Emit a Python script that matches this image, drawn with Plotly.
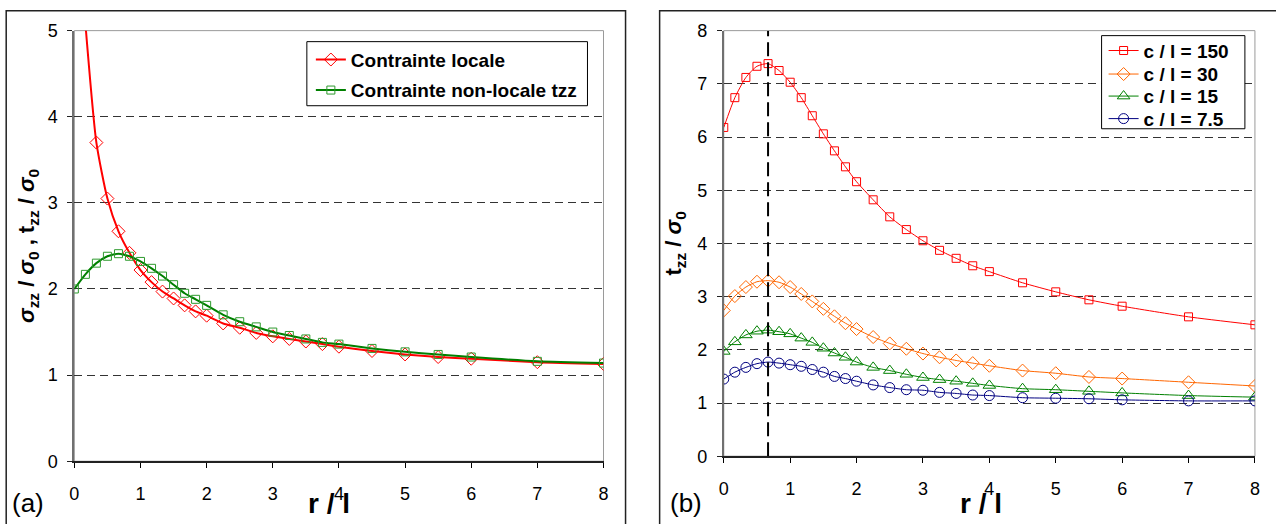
import plotly.graph_objects as go

# ---------------- data ----------------
r_all = [0, 0.167, 0.333, 0.5, 0.667, 0.833, 1.0, 1.167, 1.333, 1.5, 1.667, 1.833, 2.0,
         2.25, 2.5, 2.75, 3.0, 3.25, 3.5, 3.75, 4.0, 4.5, 5.0, 5.5, 6.0, 7.0, 8.0]
r_local = r_all[1:]

local_stress = [5.08, 3.70, 3.05, 2.67, 2.42, 2.22, 2.08, 1.97, 1.89, 1.81, 1.74, 1.69, 1.60,
                1.55, 1.49, 1.45, 1.42, 1.39, 1.36, 1.33, 1.28, 1.24, 1.21, 1.19, 1.15, 1.13]
nonlocal_tzz = [2.00, 2.17, 2.30, 2.38, 2.41, 2.38, 2.32, 2.24, 2.15, 2.05, 1.95, 1.88, 1.81,
                1.70, 1.62, 1.56, 1.50, 1.46, 1.42, 1.38, 1.36, 1.31, 1.27, 1.24, 1.21, 1.16, 1.14]

t_c150 = [6.18, 6.74, 7.12, 7.33, 7.38, 7.25, 7.03, 6.74, 6.40, 6.06, 5.74, 5.44, 5.16,
          4.82, 4.50, 4.26, 4.05, 3.87, 3.72, 3.58, 3.47, 3.26, 3.09, 2.94, 2.82, 2.62, 2.47]
t_c30 = [2.74, 3.01, 3.18, 3.28, 3.30, 3.27, 3.18, 3.05, 2.91, 2.77, 2.63, 2.50, 2.39,
         2.24, 2.12, 2.02, 1.93, 1.86, 1.80, 1.75, 1.70, 1.61, 1.56, 1.49, 1.46, 1.39, 1.32]
t_c15 = [1.97, 2.15, 2.28, 2.35, 2.37, 2.34, 2.30, 2.22, 2.14, 2.03, 1.94, 1.86, 1.77,
         1.67, 1.61, 1.54, 1.48, 1.44, 1.41, 1.37, 1.33, 1.27, 1.25, 1.22, 1.19, 1.14, 1.11]
t_c7_5 = [1.45, 1.58, 1.67, 1.74, 1.77, 1.75, 1.72, 1.69, 1.63, 1.58, 1.50, 1.46, 1.41,
          1.34, 1.29, 1.25, 1.24, 1.20, 1.18, 1.15, 1.14, 1.10, 1.09, 1.08, 1.06, 1.04, 1.04]

peak_r = 0.667

left_names = ["Contrainte locale", "Contrainte non-locale tzz"]
right_names = ["c / l = 150", "c / l = 30", "c / l = 15", "c / l = 7.5"]
x_ticks = [0, 1, 2, 3, 4, 5, 6, 7, 8]

# ---------------- figure geometry ----------------
W, H = 1276, 524
# calibration of the photographed page (picture px = A * layout px + B)
AX, BX = 0.99, 5.8
AY, BY = 0.9605, 9.4
FONT = "Arial, 'Liberation Sans', sans-serif"


def px_x(q):
    return ((q - BX) / AX) / W


def px_y(q):
    return 1 - ((q - BY) / AY) / H


fig = go.Figure()

# left panel
fig.add_trace(go.Scatter(x=r_local, y=local_stress, name=left_names[0], mode="lines+markers",
                         line=dict(color="#FF0000", width=2, shape="spline", smoothing=0.6),
                         marker=dict(symbol="diamond-open", size=10, color="#FF0000", line=dict(width=1)),
                         xaxis="x", yaxis="y", legend="legend"))
fig.add_trace(go.Scatter(x=r_all, y=nonlocal_tzz, name=left_names[1], mode="lines+markers",
                         line=dict(color="#008000", width=2, shape="spline", smoothing=0.6),
                         marker=dict(symbol="square-open", size=8, color="#2E9A2E", line=dict(width=1)),
                         xaxis="x", yaxis="y", legend="legend2"))

# right panel
right_series = [t_c150, t_c30, t_c15, t_c7_5]
right_colors = ["#FF0000", "#FF6600", "#008000", "#000080"]
right_symbols = ["square-open", "diamond-open", "triangle-up-open", "circle-open"]
right_sizes = [8, 10, 11, 10]
right_legends = ["legend3", "legend4", "legend5", "legend6"]
for name, ys, col, sym, sz, lg in zip(right_names, right_series, right_colors, right_symbols,
                                      right_sizes, right_legends):
    fig.add_trace(go.Scatter(x=r_all, y=ys, name=name, mode="lines+markers",
                             line=dict(color=col, width=1, shape="spline", smoothing=0.6),
                             marker=dict(symbol=sym, size=sz, color=col, line=dict(width=1)),
                             xaxis="x2", yaxis="y2", legend=lg))

tickfont = dict(family=FONT, size=18, color="black")
xcommon = dict(range=[0, 8], tickvals=x_ticks, ticks="outside", ticklen=5, tickcolor="black",
               showline=True, linecolor="#222", linewidth=1.5, showgrid=False, zeroline=False,
               tickfont=tickfont, ticklabelstandoff=10)
ycommon = dict(ticks="outside", ticklen=5, tickcolor="#222", dtick=1,
               showline=True, linecolor="#707070", linewidth=2, zeroline=False,
               showgrid=True, gridcolor="#333", gridwidth=1, griddash="8px,5px",
               tickfont=tickfont, ticklabelstandoff=6)


def item_legend(x_text, y_center):
    return dict(x=px_x(x_text - 42), y=px_y(y_center), xanchor="left", yanchor="middle",
                bgcolor="rgba(0,0,0,0)", borderwidth=0, itemwidth=30,
                font=dict(family=FONT, size=19, color="black", weight="bold"))


fig.update_layout(
    width=W, height=H, margin=dict(l=0, r=0, t=0, b=0),
    paper_bgcolor="white", plot_bgcolor="white",
    font=dict(family=FONT, color="black"),
    xaxis=dict(domain=[px_x(75), px_x(603)], anchor="y", **xcommon),
    yaxis=dict(domain=[px_y(460), px_y(30)], anchor="x", range=[0, 5],
               title=dict(text="<b><i>σ</i><sub>zz</sub> / <i>σ</i><sub>0</sub> , t<sub>zz</sub> / <i>σ</i><sub>0</sub></b>",
                          font=dict(family=FONT, size=22, color="black"), standoff=7),
               **ycommon),
    xaxis2=dict(domain=[px_x(723), px_x(1253)], anchor="y2", **xcommon),
    yaxis2=dict(domain=[px_y(455), px_y(30)], anchor="x2", range=[0, 8],
                title=dict(text="<b>t<sub>zz</sub> / <i>σ</i><sub>0</sub></b>",
                           font=dict(family=FONT, size=22, color="black"), standoff=9),
                **ycommon),
    legend=item_legend(353, 59),
    legend2=item_legend(353, 89.5),
    legend3=item_legend(1144, 50),
    legend4=item_legend(1144, 73.5),
    legend5=item_legend(1144, 95.5),
    legend6=item_legend(1144, 118),
    showlegend=True,
)

TOP_EDGE = 1 - 0.75 / H   # outer frame top line, kept just inside the page
shapes = [
    # plot-area borders
    dict(type="rect", xref="x domain", yref="y domain", x0=0, x1=1, y0=0, y1=1,
         line=dict(color="#9a9a9a", width=1), layer="below"),
    dict(type="rect", xref="x2 domain", yref="y2 domain", x0=0, x1=1, y0=0, y1=1,
         line=dict(color="#9a9a9a", width=1), layer="below"),
    # outer frames
    dict(type="rect", xref="paper", yref="paper", x0=px_x(7), x1=px_x(625), y0=-0.1, y1=TOP_EDGE,
         line=dict(color="#222", width=1.5)),
    dict(type="rect", xref="paper", yref="paper", x0=px_x(659), x1=1.1, y0=-0.1, y1=TOP_EDGE,
         line=dict(color="#222", width=1.5)),
    # peak position marker line
    dict(type="line", xref="x2", yref="y2", x0=peak_r, x1=peak_r, y0=0, y1=8,
         line=dict(color="black", width=2, dash="14px,6px")),
    # legend boxes
    dict(type="rect", xref="paper", yref="paper", x0=px_x(307), x1=px_x(587), y0=px_y(105), y1=px_y(41),
         line=dict(color="black", width=1), fillcolor="white", layer="above"),
    dict(type="rect", xref="paper", yref="paper", x0=px_x(1100), x1=px_x(1243), y0=px_y(128), y1=px_y(35),
         line=dict(color="black", width=1), fillcolor="white", layer="above"),
]
fig.update_layout(shapes=shapes)

title_font = dict(family=FONT, size=28, color="black")
fig.add_annotation(text="<b>r / l</b>", xref="paper", yref="paper", x=px_x(329), y=px_y(502),
                   xanchor="center", yanchor="middle", showarrow=False, font=title_font)
fig.add_annotation(text="<b>r / l</b>", xref="paper", yref="paper", x=px_x(980), y=px_y(502),
                   xanchor="center", yanchor="middle", showarrow=False, font=title_font)

fig.add_annotation(text="(a)", xref="paper", yref="paper", x=px_x(29), y=px_y(502),
                   xanchor="center", yanchor="middle",
                   showarrow=False, font=dict(family=FONT, size=26, color="black"))
fig.add_annotation(text="(b)", xref="paper", yref="paper", x=px_x(685), y=px_y(502),
                   xanchor="center", yanchor="middle",
                   showarrow=False, font=dict(family=FONT, size=26, color="black"))

fig.write_html("out.html")
